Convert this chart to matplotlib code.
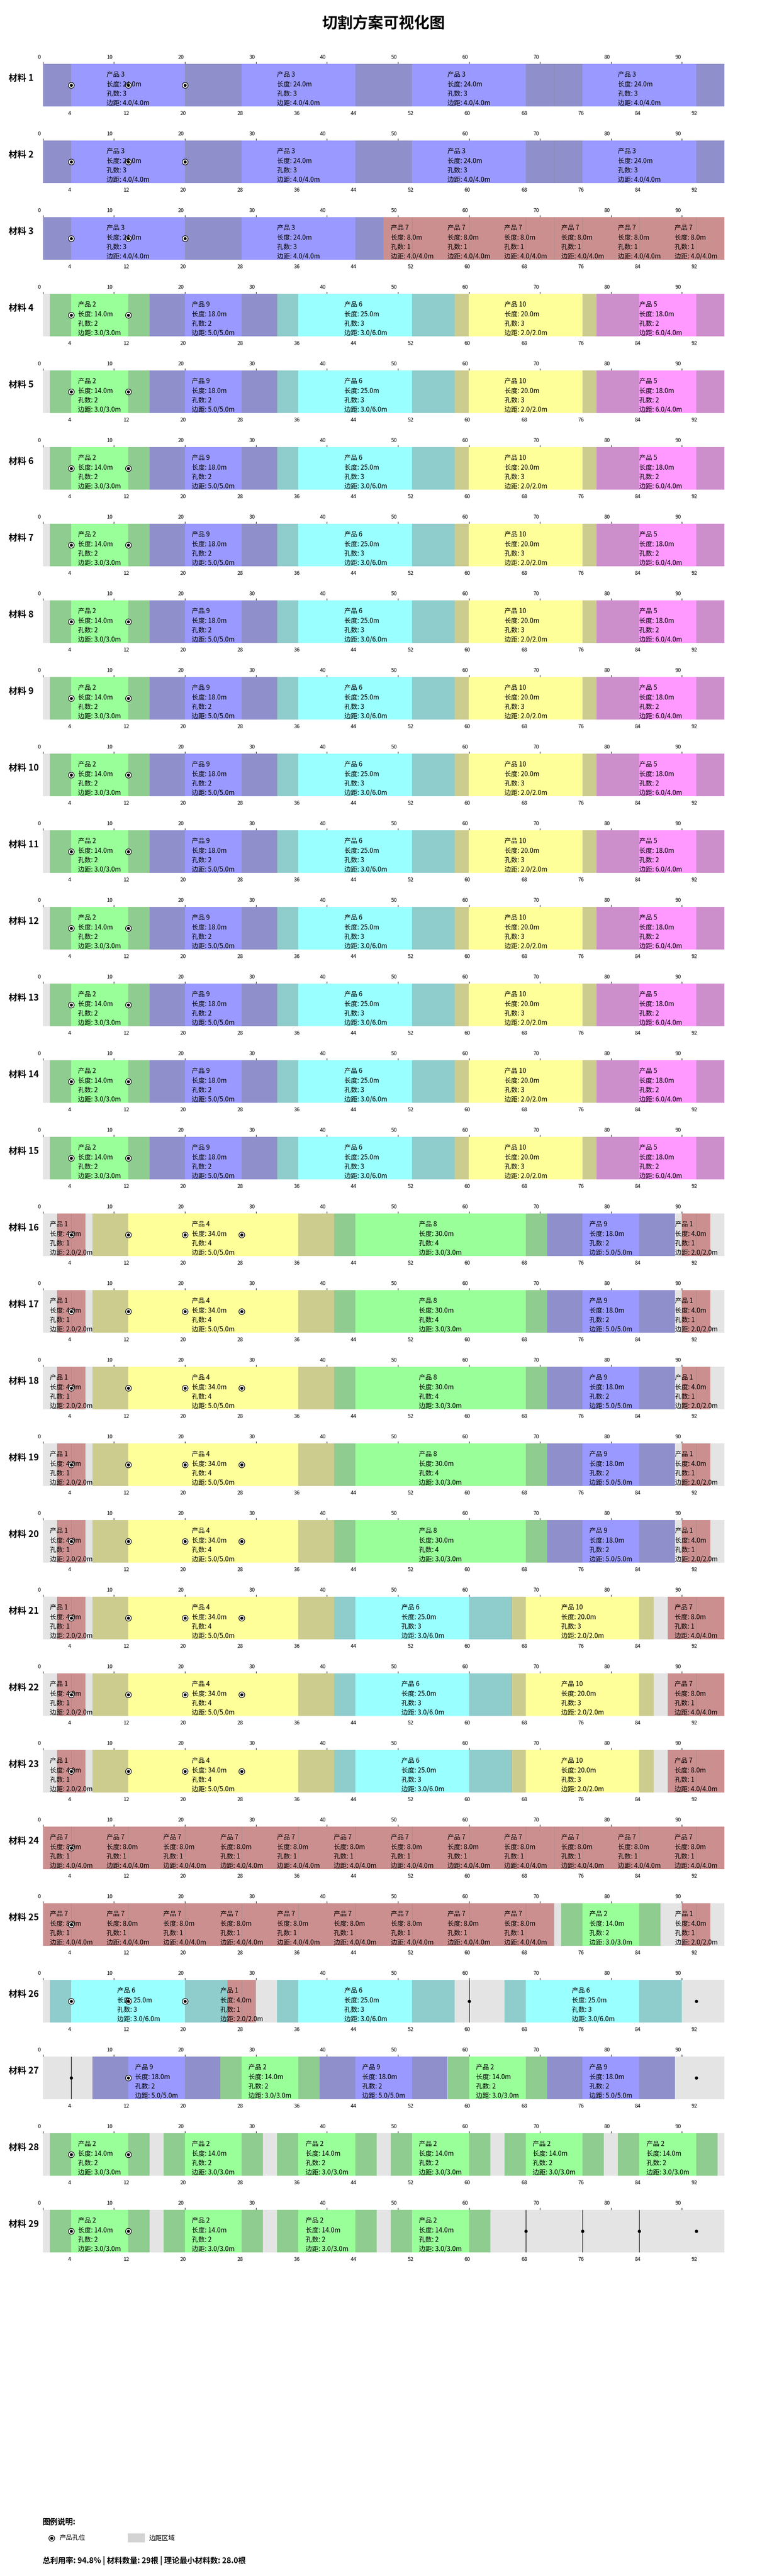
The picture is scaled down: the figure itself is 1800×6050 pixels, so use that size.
import matplotlib
matplotlib.use("Agg")
import matplotlib.pyplot as plt
from matplotlib.patches import Rectangle
from matplotlib.transforms import ScaledTranslation

plt.rcParams['font.family'] = ['Noto Sans CJK SC', 'DejaVu Sans']

# ---------------- data ----------------
MATERIAL_LENGTH = 96
product_ids = [1, 2, 3, 4, 5, 6, 7, 8, 9, 10]
product_length = [4, 14, 24, 34, 18, 25, 8, 30, 18, 20]
product_holes = [1, 2, 3, 4, 2, 3, 1, 4, 2, 3]
margin_left = [2, 3, 4, 5, 6, 3, 4, 3, 5, 2]
margin_right = [2, 3, 4, 5, 4, 6, 4, 3, 5, 2]

# cutting plans: (product id, start position) per material
plan_a = [(3, 0), (3, 24), (3, 48), (3, 72)]
plan_b = [(3, 0), (3, 24), (7, 48), (7, 56), (7, 64), (7, 72), (7, 80), (7, 88)]
plan_c = [(2, 1), (9, 15), (6, 33), (10, 58), (5, 78)]
plan_d = [(1, 2), (4, 7), (8, 41), (9, 71), (1, 90)]
plan_e = [(1, 2), (4, 7), (6, 41), (10, 66), (7, 88)]
plan_f = [(7, 0), (7, 8), (7, 16), (7, 24), (7, 32), (7, 40), (7, 48), (7, 56),
          (7, 64), (7, 72), (7, 80), (7, 88)]
plan_g = [(7, 0), (7, 8), (7, 16), (7, 24), (7, 32), (7, 40), (7, 48), (7, 56),
          (7, 64), (2, 73), (1, 90)]
plan_h = [(6, 1), (1, 26), (6, 33), (6, 65)]
plan_i = [(9, 7), (2, 25), (9, 39), (2, 57), (9, 71)]
plan_j = [(2, 1), (2, 17), (2, 33), (2, 49), (2, 65), (2, 81)]
plan_k = [(2, 1), (2, 17), (2, 33), (2, 49)]

material_plans = ([plan_a] * 2 + [plan_b] + [plan_c] * 12 + [plan_d] * 5 +
                  [plan_e] * 3 + [plan_f, plan_g, plan_h, plan_i, plan_j, plan_k])

# hole markers as drawn in the picture
ring_holes = ([[4, 12, 20]] * 3 + [[4, 12]] * 12 + [[4, 12, 20, 28]] * 8 +
              [[4], [4], [4, 12, 20], [12], [4, 12], [4, 12]])
dot_holes = {26: [60, 92], 27: [4, 92], 29: [68, 76, 84, 92]}
line_holes = {26: [60], 27: [4], 29: [68, 76, 84]}

top_ticks = list(range(0, 91, 10))
grid_ticks = list(range(4, 93, 8))

utilization = 94.8
material_count = 29
theory_min = 28.0

# ---------------- style ----------------
palette = ['#ff9999', '#99ff99', '#9999ff', '#ffff99', '#ff99ff', '#99ffff']
W, H = 1800, 6050
DPI = 100
AX_LEFT = 100.5
AX_WIDTH = 1600
ROW0_TOP = 150
ROW_PITCH = 180
BAR_H = 100

fig = plt.figure(figsize=(W / DPI, H / DPI), dpi=DPI)

fig.text(0.5, 1 - 55 / H, '切割方案可视化图', ha='center', va='center',
         fontsize=26, fontweight='bold')

top_shift = ScaledTranslation(-9 / DPI, 0, fig.dpi_scale_trans)
bot_shift = ScaledTranslation(-4 / DPI, 0, fig.dpi_scale_trans)

for idx, plan in enumerate(material_plans):
    num = idx + 1
    top = ROW0_TOP + ROW_PITCH * idx
    ax = fig.add_axes([AX_LEFT / W, 1 - (top + BAR_H) / H, AX_WIDTH / W, BAR_H / H])
    ax2 = ax.twiny()
    for a in (ax, ax2):
        a.set_xlim(0, MATERIAL_LENGTH)
        a.set_ylim(0, 1)
        for s in a.spines.values():
            s.set_visible(False)
    ax.set_yticks([])

    # unused background
    ax.barh(0.5, MATERIAL_LENGTH, left=0, height=1, color='lightgray', alpha=0.6,
            linewidth=0, zorder=1)

    for pid, start in plan:
        k = product_ids.index(pid)
        L = product_length[k]
        ml, mr = margin_left[k], margin_right[k]
        col = palette[(pid - 1) % len(palette)]
        ax.barh(0.5, L, left=start, height=1, color=col, linewidth=0, zorder=2)
        ax.barh(0.5, ml, left=start, height=1, color='gray', alpha=0.4,
                linewidth=0, zorder=3)
        ax.barh(0.5, mr, left=start + L - mr, height=1, color='gray', alpha=0.4,
                linewidth=0, zorder=3)
        if L - ml - mr == 0:
            ax.vlines(start + ml, 0, 1, color='#a88c8c', linewidth=0.8, zorder=3)
        txt = (f'产品 {pid}\n长度: {L:.1f}m\n孔数: {product_holes[k]}\n'
               f'边距: {ml:.1f}/{mr:.1f}m')
        ax.text(start + L / 2, 0.41, txt, ha='center', va='center',
                multialignment='left', fontsize=11, linespacing=1.4, zorder=7)

    rings = ring_holes[idx]
    ax.scatter(rings, [0.5] * len(rings), s=95, facecolor='white',
               edgecolor='black', linewidth=1.0, zorder=5)
    ax.scatter(rings, [0.5] * len(rings), s=26, color='black', linewidth=0, zorder=6)
    if num in line_holes:
        ax.vlines(line_holes[num], 0, 1, color='black', linewidth=1.0, zorder=5)
    if num in dot_holes:
        d = dot_holes[num]
        ax.scatter(d, [0.5] * len(d), s=30, color='black', linewidth=0, zorder=6)

    # top axis: 0..90 with tick marks
    ax.set_xticks(top_ticks)
    ax.xaxis.set_ticks_position('top')
    ax.xaxis.set_label_position('top')
    ax.tick_params(axis='x', which='major', top=True, labeltop=True, bottom=False,
                   labelbottom=False, length=3.6, width=0.8, pad=3, labelsize=9)
    # bottom labels: hole grid
    ax2.set_xticks(grid_ticks)
    ax2.xaxis.set_ticks_position('bottom')
    ax2.tick_params(axis='x', top=False, labeltop=False, bottom=True,
                    labelbottom=True, length=0, pad=7, labelsize=9)
    ax2.set_yticks([])
    for t in ax.xaxis.get_major_ticks():
        t.label2.set_transform(t.label2.get_transform() + top_shift)
    for t in ax2.xaxis.get_major_ticks():
        t.label1.set_transform(t.label1.get_transform() + bot_shift)

    fig.text(20 / W, 1 - (top + 33) / H, f'材料 {num}', ha='left', va='center',
             fontsize=15, fontweight='bold')

# legend / summary area drawn in pixel coordinates
lg = fig.add_axes([0, 0, 1, 1], zorder=-1)
lg.set_xlim(0, W)
lg.set_ylim(H, 0)
lg.axis('off')
lg.text(100, 5923, '图例说明:', ha='left', va='center', fontsize=13, fontweight='bold')
lg.scatter([120.5], [5961], s=95, facecolor='white', edgecolor='black', linewidth=1.0)
lg.scatter([120.5], [5961], s=26, color='black', linewidth=0)
lg.text(140, 5961, '产品孔位', ha='left', va='center', fontsize=11)
lg.add_patch(Rectangle((300, 5950), 40, 21, facecolor='lightgray', edgecolor='none'))
lg.text(350, 5961, '边距区域', ha='left', va='center', fontsize=11)
lg.text(100, 6014, f'总利用率: {utilization:.1f}% | 材料数量: {material_count}根 | '
        f'理论最小材料数: {theory_min:.1f}根', ha='left', va='center',
        fontsize=13, fontweight='bold')

fig.savefig('out.png', dpi=DPI)
